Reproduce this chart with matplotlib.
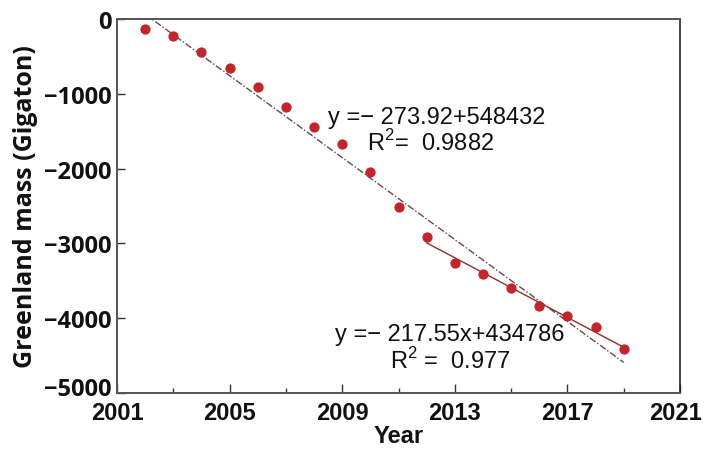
import numpy as np
import matplotlib
matplotlib.use("Agg")
import matplotlib.pyplot as plt
import matplotlib.transforms as mtransforms
from matplotlib.ticker import FixedLocator, FuncFormatter

# ---- data ----
years = [2002, 2003, 2004, 2005, 2006, 2007, 2008, 2009, 2010,
         2011, 2012, 2013, 2014, 2015, 2016, 2017, 2018, 2019]
mass = [-133, -222, -436, -649, -911, -1182, -1444, -1676, -2050,
        -2520, -2911, -3257, -3413, -3600, -3836, -3973, -4120, -4413]
recent_start = 2012

x_major = [2001, 2005, 2009, 2013, 2017, 2021]
x_minor = [2003, 2007, 2011, 2015, 2019]
y_major = [0, -1000, -2000, -3000, -4000, -5000]

eq1 = "y =\u2212 273.92+548432"
r1 = "R$^2$=  0.9882"
eq2 = "y =\u2212 217.55x+434786"
r2 = "R$^2$ =  0.977"

# ---- figure ----
plt.rcParams['mathtext.fontset'] = 'custom'
plt.rcParams['mathtext.rm'] = 'Liberation Sans'
fig = plt.figure(figsize=(7.05, 4.52), dpi=100)
ax = fig.add_axes([0.166, 0.1283, 0.7985, 0.8275])

x = np.array(years, dtype=float)
y = np.array(mass, dtype=float)

# overall linear trend
c1 = np.polyfit(x, y, 1)
ax.plot(x, np.polyval(c1, x), linestyle=(0, (5, 1.5, 1, 1.5)), color='#6a4a4a',
        lw=1.0, zorder=2)
# recent linear trend
m = x >= recent_start
c2 = np.polyfit(x[m], y[m], 1)
ax.plot(x[m], np.polyval(c2, x[m]), '-', color='#8a3030', lw=1.0, zorder=2)

ax.plot(x, y, 'o', color='#c0262c', markersize=7.4, markeredgewidth=0,
        zorder=3)

ax.set_xlim(2001, 2021)
ax.set_ylim(-5000, 0)

ax.xaxis.set_major_locator(FixedLocator(x_major))
ax.xaxis.set_minor_locator(FixedLocator(x_minor))
ax.yaxis.set_major_locator(FixedLocator(y_major))
ax.yaxis.set_major_formatter(FuncFormatter(lambda v, p: f"{int(v)}".replace('-', '\u2212')))

ax.tick_params(axis='x', which='major', direction='in', length=6.5, width=1.0,
               pad=6, labelsize=17, colors='#333333', labelcolor='#111111')
ax.tick_params(axis='x', which='minor', direction='in', length=3.5, width=1.0,
               colors='#333333')
ax.tick_params(axis='y', which='major', direction='in', length=5.5, width=1.0,
               pad=4, labelsize=17, colors='#333333', labelcolor='#111111')
for lab in ax.get_xticklabels():
    lab.set_fontfamily('Liberation Sans')
    lab.set_fontweight('bold')
for lab in ax.get_yticklabels():
    lab.set_fontfamily(['Open Sans', 'DejaVu Sans'])
    lab.set_fontweight('bold')

# nudge the corner labels like the reference
xt = ax.xaxis.get_major_ticks()
xt[-1].label1.set_transform(xt[-1].label1.get_transform() +
                            mtransforms.ScaledTranslation(-4/100, 0, fig.dpi_scale_trans))
yt = ax.yaxis.get_major_ticks()
yt[-1].label1.set_transform(yt[-1].label1.get_transform() +
                            mtransforms.ScaledTranslation(0, 7/100, fig.dpi_scale_trans))

for side in ['left', 'bottom', 'top']:
    ax.spines[side].set_color('#555555')
    ax.spines[side].set_linewidth(1.4)
ax.spines['right'].set_color('#222222')
ax.spines['right'].set_linewidth(1.2)

ax.set_xlabel("Year", fontfamily='Liberation Sans', fontweight='bold',
              fontsize=17, color='#111111', labelpad=0)
ax.set_ylabel("Greenland mass (Gigaton)", fontfamily='Open Sans',
              fontweight='bold', fontsize=18, color='#111111', labelpad=4)

tkw = dict(fontfamily='Liberation Sans', fontsize=17, color='#111111',
           ha='center', va='center')
ax.text(2012.37, -1310, eq1, **tkw)
ax.text(2012.15, -1644, r1, **tkw)
ax.text(2012.83, -4211, eq2, **tkw)
ax.text(2012.83, -4559, r2, **tkw)

fig.savefig("out.png", dpi=100)
